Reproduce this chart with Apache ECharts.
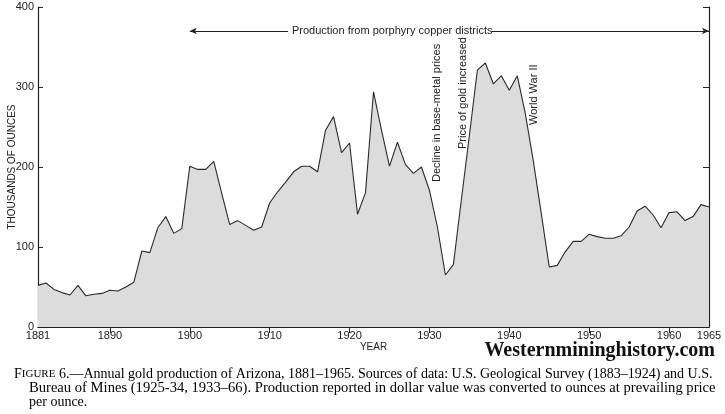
<!DOCTYPE html>
<html>
<head>
<meta charset="utf-8">
<script src="https://cdn.jsdelivr.net/npm/echarts@6/dist/echarts.min.js"></script>
<style>
  html, body { margin: 0; padding: 0; background: #fff; }
  #chart { width: 725px; height: 414px; }
</style>
</head>
<body>
<div id="chart"></div>
<script>
// annual gold production of Arizona, thousands of ounces
var years = [];
for (var y = 1881; y <= 1965; y++) years.push(y);

var production = [
  52, 55, 47, 43, 40, 52, 39, 41, 42, 46,        // 1881-1890
  45, 50, 56, 95, 93, 124, 138, 117, 123, 201,   // 1891-1900
  197, 197, 207, 167, 128, 133, 127, 121, 125, 155, // 1901-1910
  169, 181, 194, 201, 201, 194, 246, 263, 218, 230, // 1911-1920
  141, 168, 294, 246, 201, 231, 203, 192, 200, 171, // 1921-1930
  125, 65, 78, 159, 239, 321, 330, 304, 314, 296,   // 1931-1940
  314, 267, 208, 142, 75, 77, 94, 107, 107, 116,    // 1941-1950
  113, 111, 111, 114, 125, 145, 151, 140, 124, 143, // 1951-1960
  144, 133, 138, 153, 150                           // 1961-1965
];

var xLabelYears = [1881, 1890, 1900, 1910, 1920, 1930, 1940, 1950, 1960, 1965];
var xTickYears = [1890, 1900, 1910, 1920, 1930, 1940, 1950, 1960];

var arrowLeft = [[1900, 370], [1912.3, 370]];
var arrowRight = [[1937.8, 370], [1965, 370]];

var seriesData = years.map(function (yr, i) {
  return [yr, production[i]];
});

var chart = echarts.init(document.getElementById('chart'));

var axisFont = 'Liberation Sans, Arial, sans-serif';
var serif = 'Liberation Serif, Times New Roman, serif';

var option = {
  animation: false,
  backgroundColor: '#fff',
  grid: { left: 38, right: 16, top: 7, bottom: 87, containLabel: false, outerBoundsMode: 'none' },
  xAxis: [{
    type: 'value',
    min: 1881,
    max: 1965,
    position: 'bottom',
    name: 'YEAR',
    nameLocation: 'middle',
    nameGap: 15,
    nameMoveOverlap: false,
    nameTextStyle: { fontFamily: axisFont, fontSize: 10, color: '#222' },
    axisLine: { show: true, lineStyle: { color: '#222', width: 1.2 } },
    axisTick: { show: true, inside: true, length: 6, customValues: xTickYears, lineStyle: { color: '#222' } },
    axisLabel: {
      customValues: xLabelYears, fontFamily: axisFont, fontSize: 11, color: '#222', margin: 3,
      formatter: function (v) { return String(v); }
    },
    splitLine: { show: false }
  }, {
    type: 'value',
    min: 1881,
    max: 1965,
    position: 'top',
    axisLine: { show: true, lineStyle: { color: '#222', width: 1.2 } },
    axisTick: { show: true, inside: true, length: 6, customValues: xTickYears, lineStyle: { color: '#222' } },
    axisLabel: { show: false },
    splitLine: { show: false }
  }],
  yAxis: [{
    type: 'value',
    min: 0,
    max: 400,
    interval: 100,
    position: 'left',
    name: 'THOUSANDS OF OUNCES',
    nameLocation: 'middle',
    nameGap: 21,
    nameMoveOverlap: false,
    nameRotate: 90,
    nameTextStyle: { fontFamily: axisFont, fontSize: 10, color: '#222' },
    axisLine: { show: true, lineStyle: { color: '#222', width: 1.2 } },
    axisTick: { show: true, inside: true, length: 5, lineStyle: { color: '#222' } },
    axisLabel: { fontFamily: axisFont, fontSize: 11, color: '#222', margin: 4 },
    splitLine: { show: false }
  }, {
    type: 'value',
    min: 0,
    max: 400,
    interval: 100,
    position: 'right',
    axisLine: { show: true, lineStyle: { color: '#222', width: 1.2 } },
    axisTick: { show: true, inside: true, length: 6, lineStyle: { color: '#222' } },
    axisLabel: { show: false },
    splitLine: { show: false }
  }],
  series: [{
    type: 'line',
    data: seriesData,
    symbol: 'none',
    lineStyle: { color: '#2a2a2a', width: 1.1 },
    areaStyle: { color: '#dcdcdc', opacity: 1 },
    markLine: {
      silent: true,
      symbolSize: [5, 7],
      lineStyle: { color: '#222', width: 1, type: 'solid' },
      label: { show: false },
      data: [
        [{ coord: arrowLeft[0], symbol: 'arrow' }, { coord: arrowLeft[1], symbol: 'none' }],
        [{ coord: arrowRight[0], symbol: 'none' }, { coord: arrowRight[1], symbol: 'arrow' }]
      ]
    }
  }],
  graphic: [
    {
      type: 'text', left: 292, top: 25,
      style: { text: 'Production from porphyry copper districts', font: '11px ' + axisFont, fill: '#222' }
    },
    {
      type: 'text', x: 431, y: 182, rotation: Math.PI / 2,
      style: { text: 'Decline in base-metal prices', font: '11px ' + axisFont, fill: '#222' }
    },
    {
      type: 'text', x: 457, y: 149, rotation: Math.PI / 2,
      style: { text: 'Price of gold increased', font: '11px ' + axisFont, fill: '#222' }
    },
    {
      type: 'text', x: 528, y: 125, rotation: Math.PI / 2,
      style: { text: 'World War II', font: '11px ' + axisFont, fill: '#222' }
    },
    {
      type: 'text', right: 10, top: 341,
      style: { text: 'Westernmininghistory.com', font: 'bold 20px ' + serif, fill: '#111' }
    },
    {
      type: 'text', left: 14, top: 367,
      style: {
        text: '{sc|F}{scs|IGURE} 6.—Annual gold production of Arizona, 1881–1965. Sources of data: U.S. Geological Survey (1883–1924) and U.S.',
        rich: {
          sc: { font: '14px ' + serif, fill: '#000' },
          scs: { font: '11px ' + serif, fill: '#000' }
        },
        font: '14px ' + serif, fill: '#000'
      }
    },
    {
      type: 'text', left: 29, top: 381,
      style: { text: 'Bureau of Mines (1925-34, 1933–66). Production reported in dollar value was converted to ounces at prevailing price', font: '14.6px ' + serif, fill: '#000' }
    },
    {
      type: 'text', left: 29, top: 395,
      style: { text: 'per ounce.', font: '14px ' + serif, fill: '#000' }
    }
  ]
};

chart.setOption(option);
</script>
</body>
</html>
